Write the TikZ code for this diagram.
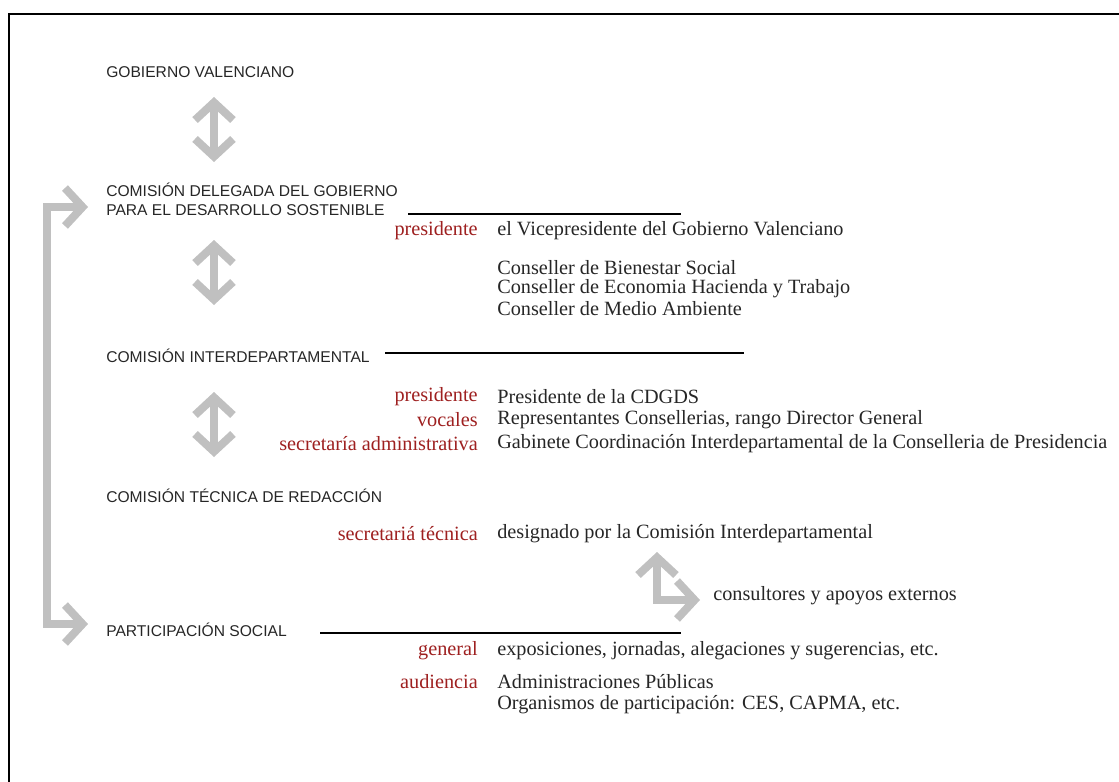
\documentclass[tikz,border=0pt]{standalone}
\usepackage{fontspec}
\setmainfont{Liberation Serif}
\newfontfamily\cabecera{Liberation Sans}
\usetikzlibrary{arrows.meta}
\definecolor{grisflecha}{RGB}{192,192,192}
\definecolor{rojocargo}{RGB}{158,32,32}
\definecolor{tinta}{RGB}{38,38,38}

\begin{document}
\begin{tikzpicture}[x=0.025cm,y=-0.025cm,
	organo/.style={anchor=west,inner sep=0pt,align=left,text=tinta,
		font=\cabecera\fontsize{11.1}{13.5}\selectfont},
	cargo/.style={anchor=east,inner sep=0pt,text=rojocargo,
		font=\fontsize{14.4}{16}\selectfont},
	miembro/.style={anchor=west,inner sep=0pt,text=tinta,
		font=\fontsize{14.4}{16}\selectfont},
	regla/.style={draw=black,line width=1.4pt},
	flecha/.style={draw=grisflecha,line width=5.7pt,line join=miter,
		{Straight Barb[length=12.5pt,width=27pt]}-{Straight Barb[length=12.5pt,width=27pt]}}]
	\useasboundingbox (0,0) rectangle (1119,782);
	% marco
	\draw[line width=1.1pt] (1119,14) -- (9,14) -- (9,782);

	% organos
	\node[organo] (gv) at (106,72) {GOBIERNO VALENCIANO};
	\node[organo] (cdgds) at (106,199.5) {COMISIÓN DELEGADA DEL GOBIERNO\\PARA EL DESARROLLO SOSTENIBLE};
	\node[organo] (ci) at (106,356) {COMISIÓN INTERDEPARTAMENTAL};
	\node[organo] (ctr) at (106,496) {COMISIÓN TÉCNICA DE REDACCIÓN};
	\node[organo] (ps) at (106,630) {PARTICIPACIÓN SOCIAL};

	% reglas
	\draw[regla] (408,214) -- (681,214);
	\draw[regla] (385,353) -- (744,353);
	\draw[regla] (320,633) -- (681,633);

	% cdgds
	\node[cargo] (pres1) at (478,231) {presidente};
	\node[miembro] (vice) at (497,231) {el Vicepresidente del Gobierno Valenciano};
	\node[miembro] (cons1) at (497,268) {Conseller de Bienestar Social};
	\node[miembro] (cons2) at (497,289) {Conseller de Economia Hacienda y Trabajo};
	\node[miembro] (cons3) at (497,309) {Conseller de Medio Ambiente};

	% ci
	\node[cargo] (pres2) at (478,397) {presidente};
	\node[miembro] (cdgdsp) at (497,397) {Presidente de la CDGDS};
	\node[cargo] (voc) at (478,420) {vocales};
	\node[miembro] (repr) at (497,420) {Representantes Consellerias, rango Director General};
	\node[cargo] (secad) at (478,444) {secretaría administrativa};
	\node[miembro] (gab) at (497,444) {Gabinete Coordinación Interdepartamental de la Conselleria de Presidencia};

	% ctr
	\node[cargo] (sectec) at (478,534) {secretariá técnica};
	\node[miembro] (desig) at (497,534) {designado por la Comisión Interdepartamental};
	\node[miembro] (ext) at (713,596) {consultores y apoyos externos};

	% ps
	\node[cargo] (gen) at (478,651) {general};
	\node[miembro] (expo) at (497,651) {exposiciones, jornadas, alegaciones y sugerencias, etc.};
	\node[cargo] (aud) at (478,682) {audiencia};
	\node[miembro] (admin) at (497,682) {Administraciones Públicas};
	\node[miembro] (orga) at (497,705) {Organismos de participación: CES, CAPMA, etc.};

	% flechas
	\coordinate (a1) at (214,97);
	\coordinate (b1) at (214,162);
	\coordinate (a2) at (214,240);
	\coordinate (b2) at (214,305);
	\coordinate (a3) at (214,392);
	\coordinate (b3) at (214,457);
	\draw[flecha] (a1) -- (b1);
	\draw[flecha] (a2) -- (b2);
	\draw[flecha] (a3) -- (b3);

	\coordinate (sube) at (657,552);
	\coordinate (codo) at (657,600);
	\coordinate (sale) at (700,600);
	\draw[flecha] (sube) -- (codo) -- (sale);

	\coordinate (arriba) at (88,207);
	\coordinate (abajo) at (88,624);
	\draw[flecha] (arriba) -- (47,207) -- (47,624) -- (abajo);
\end{tikzpicture}
\end{document}
